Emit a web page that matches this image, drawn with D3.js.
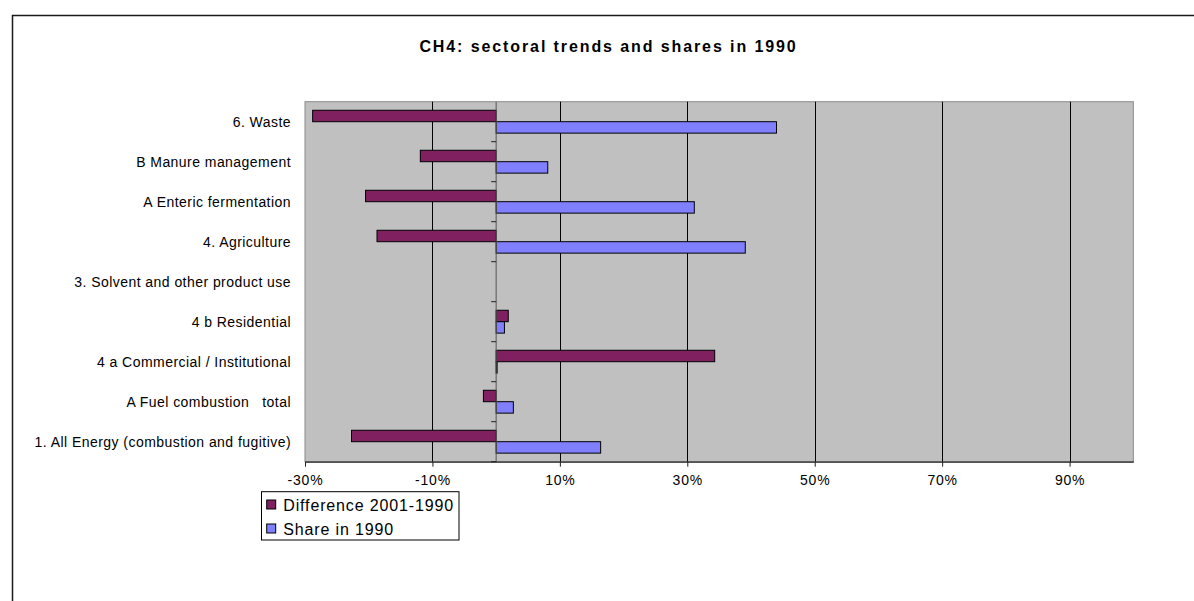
<!DOCTYPE html>
<html>
<head>
<meta charset="utf-8">
<script src="https://cdn.jsdelivr.net/npm/d3@7"></script>
<style>
  html, body { margin: 0; padding: 0; background: #fff; }
  svg { display: block; }
  text { font-family: "Liberation Sans", Arial, sans-serif; fill: #000; white-space: pre; }
</style>
</head>
<body>
<svg id="chart" width="1194" height="601"></svg>
<script>
// ---- data (top to bottom as shown) ----
const categories = [
  "6. Waste",
  "B Manure management",
  "A Enteric fermentation",
  "4. Agriculture",
  "3. Solvent and other product use",
  "4 b Residential",
  "4 a Commercial / Institutional",
  "A Fuel combustion   total",
  "1. All Energy (combustion and fugitive)"
];
const seriesNames = ["Difference 2001-1990", "Share in 1990"];
const difference = [-0.288, -0.119, -0.205, -0.187, null, 0.019, 0.343, -0.020, -0.227];
const share      = [0.440, 0.081, 0.311, 0.391, null, 0.013, 0.0015, 0.027, 0.164];
const xTicks = [-0.3, -0.1, 0.1, 0.3, 0.5, 0.7, 0.9];
const xDomain = [-0.3, 1.0];
const title = "CH4: sectoral trends and shares in 1990";

const colors = ["#802060", "#8080FF"];

const svg = d3.select("#chart");
const plot = { left: 305, right: 1133.3, top: 101.7, bottom: 461.7 };

// outer chart border
svg.append("path")
  .attr("d", `M12.5,601 V15.5 H1194`)
  .attr("fill", "none").attr("stroke", "#1a1a1a").attr("stroke-width", 1.5);

// title
svg.append("text")
  .attr("x", 608.5).attr("y", 51.7)
  .attr("text-anchor", "middle")
  .style("font-size", "16px").style("font-weight", "bold")
  .style("letter-spacing", "1.9px")
  .text(title);

const x = d3.scaleLinear().domain(xDomain).range([plot.left, plot.right]);
const y = d3.scaleBand().domain(categories).range([plot.top, plot.bottom]).padding(0);
const y1 = d3.scaleBand().domain(seriesNames).range([0, y.bandwidth()]).paddingInner(0).paddingOuter(0.75);

// plot area
svg.append("rect")
  .attr("x", plot.left).attr("y", plot.top)
  .attr("width", plot.right - plot.left).attr("height", plot.bottom - plot.top)
  .attr("fill", "#C0C0C0").attr("stroke", "#8a8a8a").attr("stroke-width", 1);

// gridlines
svg.append("g").selectAll("line")
  .data(xTicks.filter(t => t > xDomain[0]))
  .join("line")
  .attr("x1", d => Math.round(x(d)) + 0.5).attr("x2", d => Math.round(x(d)) + 0.5)
  .attr("y1", plot.top).attr("y2", plot.bottom)
  .attr("stroke", "#000").attr("stroke-width", 1);

// bars
const rows = categories.map((c, i) => ({ cat: c, vals: [difference[i], share[i]] }));
const g = svg.append("g");
rows.forEach(r => {
  r.vals.forEach((v, j) => {
    if (v === null) return;
    const x0 = x(Math.min(0, v)), x1 = x(Math.max(0, v));
    g.append("rect")
      .attr("x", x0).attr("y", y(r.cat) + y1(seriesNames[j]))
      .attr("width", Math.max(0.5, x1 - x0)).attr("height", y1.bandwidth())
      .attr("fill", colors[j]).attr("stroke", "#000").attr("stroke-width", 1);
  });
});

// vertical (category) axis at zero
const yAxisX = x(0);
svg.append("line")
  .attr("x1", yAxisX).attr("x2", yAxisX)
  .attr("y1", plot.top).attr("y2", plot.bottom)
  .attr("stroke", "#555").attr("stroke-width", 1);
const boundaries = categories.map(c => y(c)).slice(1).concat([plot.bottom]);
svg.append("g").selectAll("line")
  .data(boundaries).join("line")
  .attr("x1", yAxisX - 5).attr("x2", yAxisX)
  .attr("y1", d => d).attr("y2", d => d)
  .attr("stroke", "#222").attr("stroke-width", 1);

// category labels
svg.append("g").selectAll("text")
  .data(categories).join("text")
  .attr("x", 291).attr("y", d => y(d) + y.bandwidth() / 2 + 5)
  .attr("text-anchor", "end")
  .style("font-size", "14px").style("letter-spacing", "0.45px")
  .text(d => d);

// x axis
const fmt = d3.formatLocale({ decimal: ".", thousands: ",", grouping: [3], currency: ["$", ""], minus: "-", percent: "%" }).format(".0%");
const xAxis = d3.axisBottom(x).tickValues(xTicks).tickFormat(fmt).tickSize(5).tickSizeOuter(0);
const ax = svg.append("g").attr("transform", `translate(0,${plot.bottom})`).call(xAxis);
ax.select(".domain").attr("stroke", "#222").attr("stroke-width", 1.2);
ax.selectAll(".tick line").attr("stroke", "#222");
ax.selectAll(".tick text")
  .attr("y", 19).attr("dy", "0.32em")
  .style("font-family", "'Liberation Sans', Arial, sans-serif")
  .style("font-size", "14px").style("letter-spacing", "0.8px").attr("fill", "#000");

// legend
const lg = svg.append("g");
lg.append("rect").attr("x", 261.5).attr("y", 491.7).attr("width", 197.5).attr("height", 48.3)
  .attr("fill", "#fff").attr("stroke", "#000").attr("stroke-width", 1);
seriesNames.forEach((s, i) => {
  lg.append("rect").attr("x", 266.7).attr("y", 500 + i * 24).attr("width", 9).attr("height", 9)
    .attr("fill", colors[i]).attr("stroke", "#000").attr("stroke-width", 1);
  lg.append("text").attr("x", 283.3).attr("y", 511 + i * 23.5)
    .style("font-size", "16px").style("letter-spacing", "0.85px")
    .text(s);
});
</script>
</body>
</html>
